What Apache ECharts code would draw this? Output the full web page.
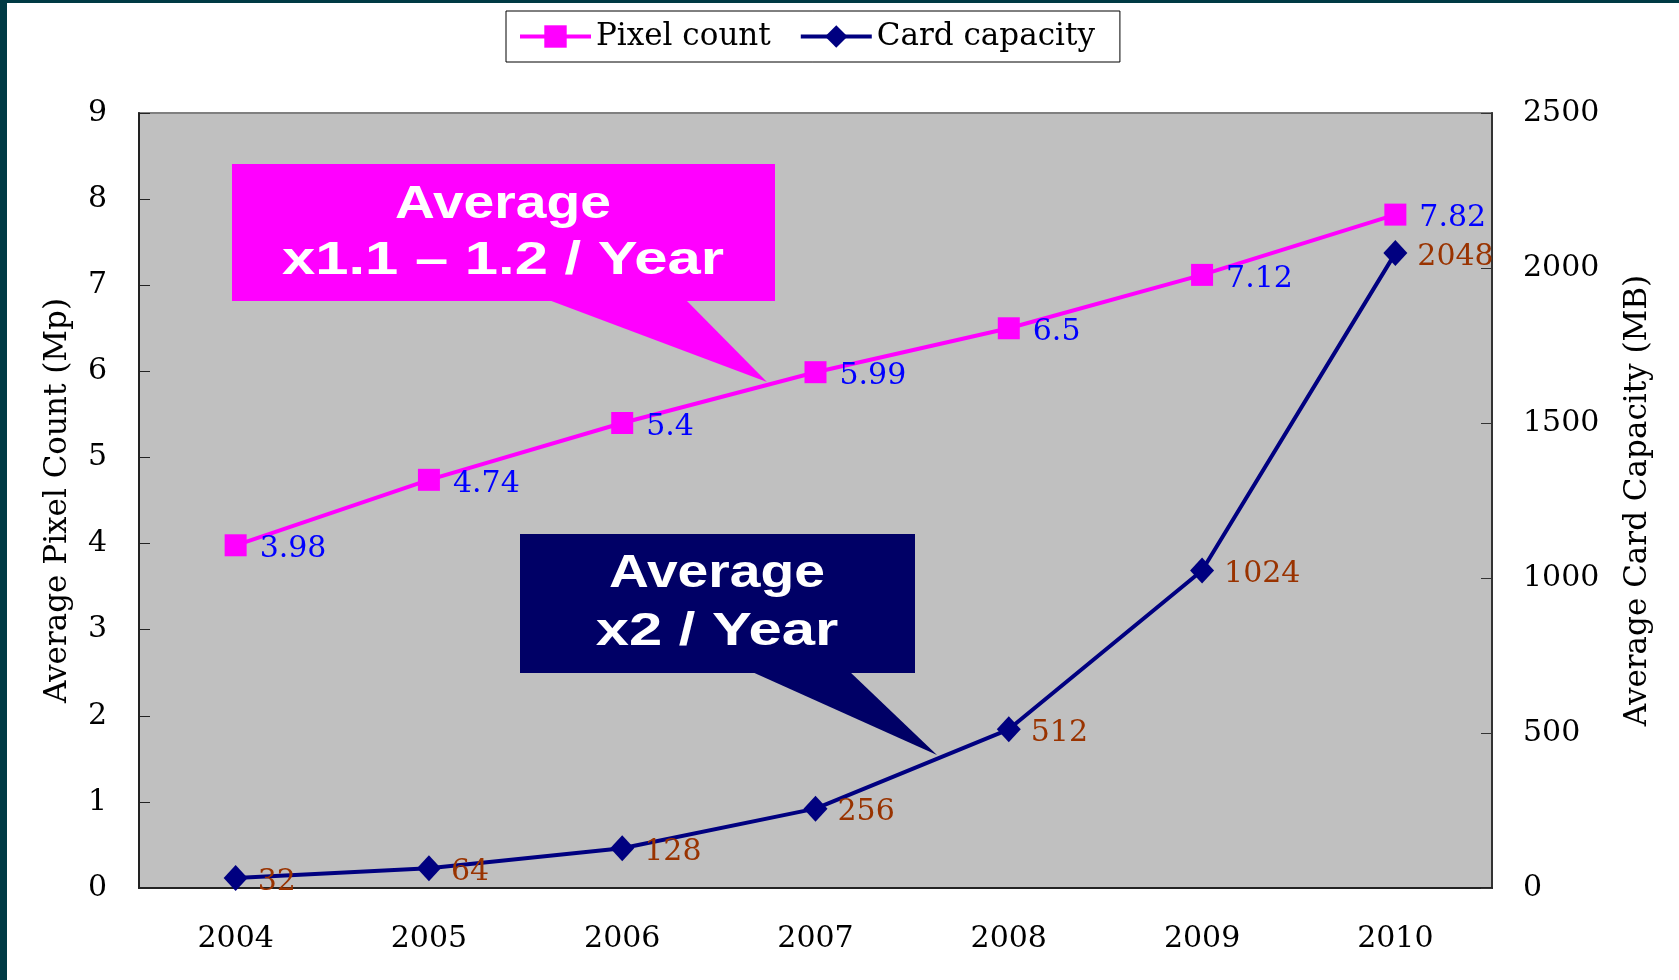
<!DOCTYPE html>
<html>
<head>
<meta charset="utf-8">
<script src="https://cdn.jsdelivr.net/npm/echarts@6/dist/echarts.min.js"></script>
<style>
  body { margin: 0; background: #003a44; width: 1679px; height: 980px; overflow: hidden; }
  #chart { position: absolute; left: 7px; top: 3px; width: 1672px; height: 977px; background: #fff; }
</style>
</head>
<body>
<div id="chart"></div>
<script>
// ----- data -----
const years = ['2004', '2005', '2006', '2007', '2008', '2009', '2010'];
const pixelCount = [3.98, 4.74, 5.4, 5.99, 6.5, 7.12, 7.82];
const cardCapacity = [32, 64, 128, 256, 512, 1024, 2048];
const seriesNames = ['Pixel count', 'Card capacity'];
const axisNames = ['Average Pixel Count (Mp)', 'Average Card Capacity (MB)'];
const pixelNote = ['Average', 'x1.1 – 1.2 / Year'];
const cardNote = ['Average', 'x2 / Year'];

// ----- styles -----
const serif = 'DejaVu Serif';
const magenta = '#ff00ff';
const navy = '#000080';
const boxNavy = '#000066';

const chart = echarts.init(document.getElementById('chart'));

const noteText = (txt, x, y, sx) => ({
  type: 'text', x, y, scaleX: sx, z: 5,
  style: {
    text: txt, fill: '#fff', align: 'center', verticalAlign: 'middle',
    font: 'bold 46px "Liberation Sans", Arial, sans-serif'
  }
});

const option = {
  animation: false,
  backgroundColor: '#fff',
  legend: {
    data: seriesNames,
    left: 499,
    top: 8,
    padding: [10, 25, 10, 12],
    itemGap: 28,
    itemWidth: 71,
    itemHeight: 28,
    backgroundColor: '#fff',
    borderColor: '#000',
    borderWidth: 1,
    lineStyle: { width: 4 },
    textStyle: { fontFamily: serif, fontSize: 31, color: '#000' }
  },
  grid: {
    left: 132, right: 187, top: 110, bottom: 92,
    show: true, backgroundColor: '#c0c0c0', borderColor: '#808080', borderWidth: 2
  },
  xAxis: {
    type: 'category',
    data: years,
    boundaryGap: true,
    axisLine: { lineStyle: { color: '#222', width: 2 } },
    axisTick: { inside: true, length: 12, lineStyle: { color: '#222', width: 1 } },
    axisLabel: { fontFamily: serif, fontSize: 30, color: '#000', margin: 36 }
  },
  yAxis: [
    {
      type: 'value', min: 0, max: 9, interval: 1,
      name: axisNames[0], nameLocation: 'middle', nameGap: 66, nameRotate: 90,
      nameTextStyle: { fontFamily: serif, fontSize: 31, color: '#000' },
      splitLine: { show: false },
      axisLine: { show: true, lineStyle: { color: '#222', width: 2 } },
      axisTick: { show: true, inside: true, length: 11, lineStyle: { color: '#222' } },
      axisLabel: { fontFamily: serif, fontSize: 30, color: '#000', margin: 32 }
    },
    {
      type: 'value', min: 0, max: 2500, interval: 500, position: 'right',
      name: axisNames[1], nameLocation: 'middle', nameGap: 130, nameRotate: 90,
      nameTextStyle: { fontFamily: serif, fontSize: 31, color: '#000' },
      splitLine: { show: false },
      axisLine: { show: true, lineStyle: { color: '#333', width: 2 } },
      axisTick: { show: true, inside: true, length: 11, lineStyle: { color: '#333' } },
      axisLabel: {
        fontFamily: serif, fontSize: 30, color: '#000', margin: 31,
        formatter: (v) => String(v)
      }
    }
  ],
  series: [
    {
      name: seriesNames[0],
      type: 'line',
      yAxisIndex: 0,
      data: pixelCount,
      symbol: 'rect',
      symbolSize: 22,
      itemStyle: { color: magenta },
      lineStyle: { color: magenta, width: 4 },
      label: {
        show: true, position: 'right', distance: 13, offset: [0, 4],
        fontFamily: serif, fontSize: 30, color: '#0000ff'
      },
      z: 3
    },
    {
      name: seriesNames[1],
      type: 'line',
      yAxisIndex: 1,
      data: cardCapacity,
      symbol: 'diamond',
      symbolSize: [24, 26],
      itemStyle: { color: navy },
      lineStyle: { color: navy, width: 4 },
      label: {
        show: true, position: 'right', distance: 10, offset: [0, 4],
        fontFamily: serif, fontSize: 30, color: '#993300'
      },
      z: 3
    }
  ],
  graphic: [
    // pixel count callout
    { type: 'rect', z: 1, shape: { x: 225, y: 161, width: 543, height: 137 }, style: { fill: magenta } },
    { type: 'polygon', z: 1, shape: { points: [[539, 296], [678, 296], [760, 379]] }, style: { fill: magenta } },
    noteText(pixelNote[0], 496, 202, 1.2),
    noteText(pixelNote[1], 496, 258, 1.3),
    // card capacity callout
    { type: 'rect', z: 1, shape: { x: 513, y: 531, width: 395, height: 139 }, style: { fill: boxNavy } },
    { type: 'polygon', z: 1, shape: { points: [[743, 668], [842, 668], [930, 752]] }, style: { fill: boxNavy } },
    noteText(cardNote[0], 710, 571, 1.2),
    noteText(cardNote[1], 710, 629, 1.3)
  ]
};

chart.setOption(option);
</script>
</body>
</html>
